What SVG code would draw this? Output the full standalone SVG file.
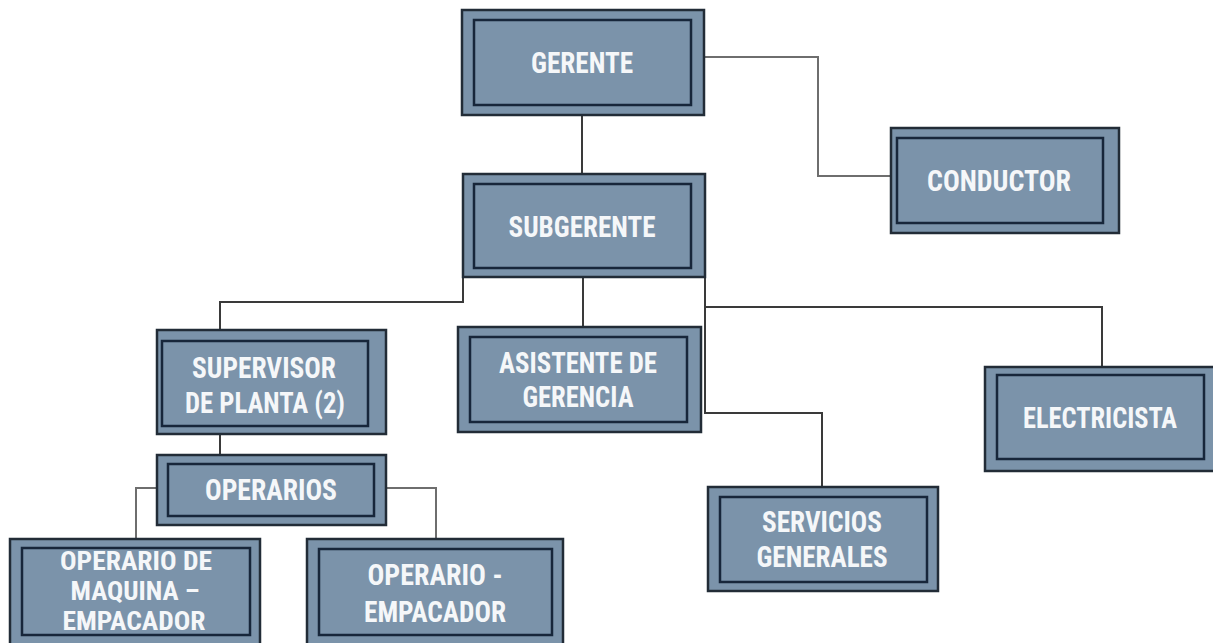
<svg xmlns="http://www.w3.org/2000/svg" width="1213" height="643" viewBox="0 0 1213 643">
<style>
.outer{fill:#7b93aa;stroke:#222c37;stroke-width:2.5}
.inner{fill:#7b93aa;stroke:#17263a;stroke-width:2.5}
.lbl{font-family:"Liberation Sans Narrow","Roboto Condensed","Liberation Sans",Arial,sans-serif;font-weight:bold;font-size:29px;fill:#f5f7f9;text-anchor:middle}
.sm{font-size:25px}
.c{fill:none;stroke:#3a3a3a;stroke-width:2}
.c2{fill:none;stroke:#6e6e6e;stroke-width:2}
</style>
<rect width="1213" height="643" fill="#ffffff"/>
<g id="connectors">
<path class="c" d="M582 115V174"/>
<path class="c2" d="M704 57H818V176H891"/>
<path class="c" d="M463 277V302H220V330"/>
<path class="c" d="M583 277V327"/>
<path class="c" d="M705 277V413H822V487"/>
<path class="c" d="M705 307H1102V367"/>
<path class="c" d="M220 434V455"/>
<path class="c2" d="M157 488H136V539"/>
<path class="c2" d="M386 488H436V539"/>
</g>
<g id="gerente">
<rect class="outer" x="462" y="10" width="242" height="105"/>
<rect class="inner" x="474" y="20" width="217" height="85"/>
<text class="lbl" x="582" y="73" textLength="102" lengthAdjust="spacingAndGlyphs">GERENTE</text>
</g>
<g id="conductor">
<rect class="outer" x="891" y="128" width="228" height="105"/>
<rect class="inner" x="897" y="138" width="206" height="85"/>
<text class="lbl" x="999" y="191" textLength="144" lengthAdjust="spacingAndGlyphs">CONDUCTOR</text>
</g>
<g id="subgerente">
<rect class="outer" x="463" y="174" width="242" height="103"/>
<rect class="inner" x="474" y="184" width="217" height="84"/>
<text class="lbl" x="582" y="237" textLength="147" lengthAdjust="spacingAndGlyphs">SUBGERENTE</text>
</g>
<g id="supervisor">
<rect class="outer" x="157" y="330" width="229" height="104"/>
<rect class="inner" x="162" y="341" width="206" height="85"/>
<text class="lbl" x="264" y="378" textLength="144" lengthAdjust="spacingAndGlyphs">SUPERVISOR</text>
<text class="lbl" x="265" y="413" textLength="160" lengthAdjust="spacingAndGlyphs">DE PLANTA (2)</text>
</g>
<g id="asistente">
<rect class="outer" x="458" y="327" width="243" height="105"/>
<rect class="inner" x="470" y="337" width="217" height="85"/>
<text class="lbl" x="578" y="373" textLength="158" lengthAdjust="spacingAndGlyphs">ASISTENTE DE</text>
<text class="lbl" x="578" y="407" textLength="111" lengthAdjust="spacingAndGlyphs">GERENCIA</text>
</g>
<g id="electricista">
<rect class="outer" x="985" y="367" width="232" height="104"/>
<rect class="inner" x="997" y="375" width="207" height="84"/>
<text class="lbl" x="1100" y="428" textLength="154" lengthAdjust="spacingAndGlyphs">ELECTRICISTA</text>
</g>
<g id="servicios">
<rect class="outer" x="708" y="487" width="230" height="104"/>
<rect class="inner" x="720" y="497" width="207" height="85"/>
<text class="lbl" x="822" y="532" textLength="120" lengthAdjust="spacingAndGlyphs">SERVICIOS</text>
<text class="lbl" x="822" y="567" textLength="131" lengthAdjust="spacingAndGlyphs">GENERALES</text>
</g>
<g id="operarios">
<rect class="outer" x="157" y="455" width="229" height="70"/>
<rect class="inner" x="168" y="464" width="206" height="52"/>
<text class="lbl" x="271" y="500" textLength="132" lengthAdjust="spacingAndGlyphs">OPERARIOS</text>
</g>
<g id="operario-maquina">
<rect class="outer" x="10" y="539" width="250" height="110"/>
<rect class="inner" x="22" y="548" width="228" height="87"/>
<text class="lbl sm" x="136" y="570" textLength="152" lengthAdjust="spacingAndGlyphs">OPERARIO DE</text>
<text class="lbl sm" x="135" y="600" textLength="129" lengthAdjust="spacingAndGlyphs">MAQUINA –</text>
<text class="lbl sm" x="134" y="630" textLength="143" lengthAdjust="spacingAndGlyphs">EMPACADOR</text>
</g>
<g id="operario-empacador">
<rect class="outer" x="307" y="539" width="256" height="110"/>
<rect class="inner" x="319" y="549" width="233" height="86"/>
<text class="lbl" x="435" y="585" textLength="135" lengthAdjust="spacingAndGlyphs">OPERARIO -</text>
<text class="lbl" x="435" y="622" textLength="142" lengthAdjust="spacingAndGlyphs">EMPACADOR</text>
</g>
</svg>
